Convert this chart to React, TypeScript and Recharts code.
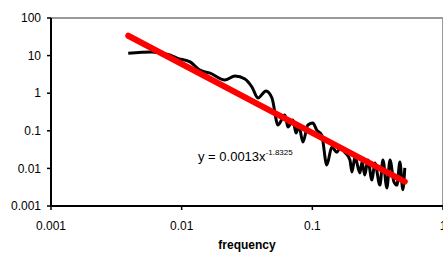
import { LineChart, Line, XAxis, YAxis, ReferenceArea } from 'recharts';

// spectrum (log-log)
const freq = [
  0.0039, 0.0059, 0.0081, 0.0092, 0.0116, 0.0138, 0.0165, 0.0214, 0.0256, 0.0305,
  0.0345, 0.0384, 0.0442, 0.0491, 0.0546, 0.0617, 0.065, 0.0711, 0.075, 0.0789,
  0.0847, 0.0925, 0.101, 0.108, 0.118, 0.129, 0.141, 0.154, 0.163, 0.177,
  0.194, 0.201, 0.212, 0.231, 0.24, 0.252, 0.266, 0.286, 0.301, 0.329,
  0.347, 0.372, 0.393, 0.421, 0.444, 0.468, 0.493, 0.51,
];
const power = [
  11.5, 12.5, 10.4, 8.6, 6.8, 4.1, 3.4, 2.24, 2.87, 2.39,
  1.46, 0.745, 1.15, 0.745, 0.143, 0.263, 0.126, 0.194, 0.087, 0.134,
  0.05, 0.143, 0.161, 0.105, 0.077, 0.0123, 0.037, 0.027, 0.035, 0.027,
  0.0167, 0.008, 0.02, 0.0076, 0.0148, 0.0067, 0.0167, 0.0049, 0.0139, 0.0036,
  0.0167, 0.003, 0.0167, 0.0044, 0.0036, 0.0148, 0.0027, 0.0103,
];

// power-law trendline end points
const trendFreq = [0.0039, 0.51];
const trendPower = [33.7, 0.00447];

const xTicks = [0.001, 0.01, 0.1, 1];
const yTicks = [0.001, 0.01, 0.1, 1, 10, 100];

const spectrum = freq.map((f, i) => ({ f, p: power[i] }));
const trend = trendFreq.map((f, i) => ({ f, p: trendPower[i] }));

const font = '"Liberation Sans", Arial, sans-serif';
const tickStyle = { fontSize: 12, fill: '#000', fontFamily: font };

export default function App() {
  return (
    <div style={{ position: 'absolute', left: 0, top: 0, width: 443, height: 255, background: '#fff' }}>
      <LineChart width={443} height={255} margin={{ top: 18, right: 0, left: 0, bottom: 0 }}>
        <ReferenceArea
          x1={0.001}
          x2={1}
          y1={0.001}
          y2={100}
          fill="none"
          stroke="#999"
          strokeWidth={2}
        />
        <XAxis
          type="number"
          dataKey="f"
          scale="log"
          domain={[0.001, 1]}
          ticks={xTicks}
          allowDataOverflow
          height={49}
          tickSize={4}
          tickMargin={11}
          tick={tickStyle}
          tickFormatter={(v: number) => String(v)}
          axisLine={{ stroke: '#000', strokeWidth: 2 }}
          tickLine={{ stroke: '#000', strokeWidth: 1.5 }}
          interval={0}
        />
        <YAxis
          type="number"
          dataKey="p"
          scale="log"
          domain={[0.001, 100]}
          ticks={yTicks}
          allowDataOverflow
          width={51}
          tickSize={4}
          tickMargin={6}
          tick={tickStyle}
          tickFormatter={(v: number) => String(v)}
          axisLine={{ stroke: '#000', strokeWidth: 2 }}
          tickLine={{ stroke: '#000', strokeWidth: 1.5 }}
          interval={0}
        />
        <Line
          data={spectrum}
          dataKey="p"
          type="monotone"
          stroke="#000"
          strokeWidth={3}
          dot={false}
          isAnimationActive={false}
        />
        <Line
          data={trend}
          dataKey="p"
          stroke="#ff0000"
          strokeWidth={6}
          strokeLinecap="round"
          dot={false}
          isAnimationActive={false}
        />
      </LineChart>
      <div
        style={{
          position: 'absolute',
          left: 198,
          top: 150,
          fontFamily: font,
          fontSize: 13,
          lineHeight: '13px',
          color: '#000',
          whiteSpace: 'nowrap',
        }}
      >
        y = 0.0013x
        <span style={{ fontSize: 8, position: 'relative', top: -6 }}>-1.8325</span>
      </div>
      <div
        style={{
          position: 'absolute',
          left: 0,
          width: 494,
          top: 239,
          textAlign: 'center',
          fontFamily: font,
          fontSize: 12,
          fontWeight: 'bold',
          lineHeight: '12px',
          color: '#000',
        }}
      >
        frequency
      </div>
    </div>
  );
}
